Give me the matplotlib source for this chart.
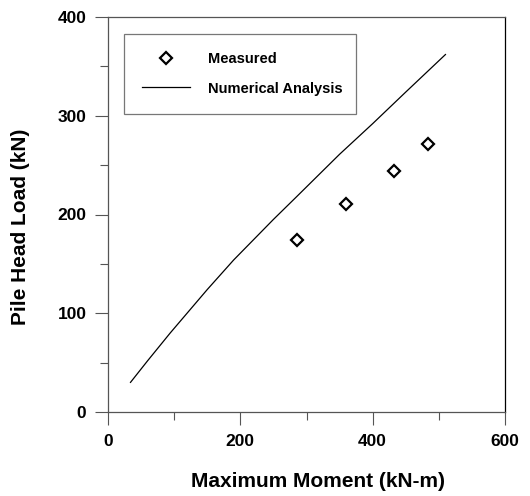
import numpy as np
import matplotlib
matplotlib.use('Agg')
import matplotlib.pyplot as plt
from matplotlib.ticker import MultipleLocator

plt.rcParams['font.family'] = ['Liberation Sans', 'DejaVu Sans']
plt.rcParams['font.weight'] = 'bold'

# measured points
meas_moment = [286, 359, 432, 483]
meas_load = [174, 211, 244, 271]

# numerical analysis curve
num_moment = [34, 60, 94, 150, 190, 250, 285, 350, 400, 450, 510]
num_load = [30, 52, 80, 124, 154, 195, 218, 261, 292, 324, 362]

fig = plt.figure(figsize=(5.3, 4.96), dpi=100)
ax = fig.add_axes([108/530, 1-412/496, 397/530, 395/496])

ax.plot(num_moment, num_load, '-', color='black', linewidth=0.9,
        label='Numerical Analysis', zorder=2)
ax.plot(meas_moment, meas_load, 'D', markersize=5.8, markerfacecolor='white',
        markeredgecolor='black', markeredgewidth=1.6, linestyle='none',
        label='Measured', zorder=3)

ax.set_xlim(0, 600)
ax.set_ylim(0, 400)
ax.xaxis.set_major_locator(MultipleLocator(200))
ax.xaxis.set_minor_locator(MultipleLocator(100))
ax.yaxis.set_major_locator(MultipleLocator(100))
ax.yaxis.set_minor_locator(MultipleLocator(50))
ax.tick_params(which='major', direction='out', length=9.5, width=0.8,
               labelsize=12.5, pad=6, color='#555555')
ax.tick_params(which='minor', direction='out', length=5.5, width=0.8,
               color='#555555')
ax.tick_params(top=False, right=False, which='both')
for lab in ax.get_xticklabels() + ax.get_yticklabels():
    lab.set_fontweight('bold')

for side in ['left', 'bottom', 'top']:
    ax.spines[side].set_color('#555555')
    ax.spines[side].set_linewidth(0.9)
ax.spines['right'].set_color('black')
ax.spines['right'].set_linewidth(0.9)

ax.set_xlabel('Maximum Moment (kN-m)', fontsize=15, fontweight='bold')
ax.xaxis.set_label_coords(0.528, -0.152)
ax.set_ylabel('Pile Head Load (kN)', fontsize=15, fontweight='bold')
ax.yaxis.set_label_coords(-0.196, 0.47)

handles, labels = ax.get_legend_handles_labels()
leg = ax.legend(handles[::-1], labels[::-1], loc='upper left',
                bbox_to_anchor=(0.040, 0.757, 0.585, 0.2), mode='expand',
                fontsize=10.5, frameon=True, fancybox=False, edgecolor='#555555',
                borderpad=1.25, labelspacing=1.05, handlelength=3.3,
                handletextpad=1.2, borderaxespad=0)
leg.get_frame().set_linewidth(0.9)
for t in leg.get_texts():
    t.set_fontweight('bold')

fig.savefig('out.png', dpi=100)
